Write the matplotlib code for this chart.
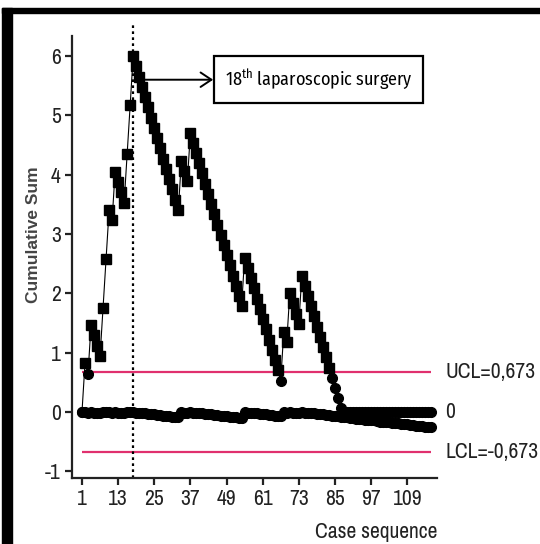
import matplotlib
matplotlib.use("Agg")
import matplotlib.pyplot as plt
from matplotlib.patches import Rectangle

plt.rcParams['font.family'] = ['Archivo Narrow', 'DejaVu Sans']
plt.rcParams['mathtext.fontset'] = 'custom'
plt.rcParams['mathtext.rm'] = 'Fira Sans Condensed'
plt.rcParams['axes.unicode_minus'] = False

# ---- data ----
cases = list(range(1, 118))
cusum = [0.00, 0.82, 0.64, 1.46, 1.29, 1.12, 0.94, 1.76, 2.58, 3.40,
         3.23, 4.05, 3.88, 3.70, 3.53, 4.35, 5.17, 6.00, 5.83, 5.65,
         5.48, 5.31, 5.14, 4.96, 4.79, 4.62, 4.45, 4.27, 4.10, 3.93,
         3.76, 3.58, 3.41, 4.23, 4.06, 3.89, 4.71, 4.54, 4.37, 4.19,
         4.02, 3.85, 3.68, 3.50, 3.33, 3.16, 2.99, 2.81, 2.64, 2.47,
         2.30, 2.12, 1.95, 1.78, 2.60, 2.43, 2.26, 2.09, 1.91, 1.74,
         1.57, 1.40, 1.22, 1.05, 0.88, 0.71, 0.53, 1.35, 1.18, 2.00,
         1.83, 1.66, 1.48, 2.30, 2.13, 1.96, 1.79, 1.61, 1.44, 1.27,
         1.10, 0.92, 0.75, 0.58, 0.41, 0.23, 0.06, 0.00, 0.00, 0.00,
         0.00, 0.00, 0.00, 0.00, 0.00, 0.00, 0.00, 0.00, 0.00, 0.00,
         0.00, 0.00, 0.00, 0.00, 0.00, 0.00, 0.00, 0.00, 0.00, 0.00,
         0.00, 0.00, 0.00, 0.00, 0.00, 0.00, 0.00]
lower = [0.00, 0.00, -0.01, 0.00, -0.01, -0.01, -0.02, 0.00, 0.00, 0.00,
         -0.01, 0.00, -0.01, -0.01, -0.02, 0.00, 0.00, 0.00, -0.01, -0.01,
         -0.02, -0.02, -0.03, -0.04, -0.04, -0.05, -0.05, -0.06, -0.07, -0.07,
         -0.08, -0.08, -0.09, 0.00, -0.01, -0.01, 0.00, -0.01, -0.01, -0.02,
         -0.02, -0.03, -0.04, -0.04, -0.05, -0.05, -0.06, -0.07, -0.07, -0.08,
         -0.08, -0.09, -0.10, -0.10, 0.00, -0.01, -0.01, -0.02, -0.02, -0.03,
         -0.04, -0.04, -0.05, -0.05, -0.06, -0.07, -0.07, 0.00, -0.01, 0.00,
         -0.01, -0.01, -0.02, 0.00, -0.01, -0.01, -0.02, -0.02, -0.03, -0.04,
         -0.04, -0.05, -0.05, -0.06, -0.07, -0.07, -0.08, -0.08, -0.09, -0.10,
         -0.10, -0.11, -0.11, -0.12, -0.13, -0.13, -0.14, -0.14, -0.15, -0.16,
         -0.16, -0.17, -0.17, -0.18, -0.19, -0.19, -0.20, -0.20, -0.21, -0.22,
         -0.22, -0.23, -0.23, -0.24, -0.25, -0.25, -0.26]
UCL, LCL = 0.673, -0.673
MARK_CASE = 18
xticks = [1, 13, 25, 37, 49, 61, 73, 85, 97, 109]
yticks = [-1, 0, 1, 2, 3, 4, 5, 6]
assert len(cusum) == len(cases) == len(lower)

fig = plt.figure(figsize=(5.4, 5.44), dpi=100)
ax = fig.add_axes([0.1333, 0.1213, 0.676, 0.8383])

# frame of the original figure (left + top black bars)
fig.patches.append(Rectangle((0.0037, 0), 0.0185, 0.985, transform=fig.transFigure, color="black", zorder=0))
fig.patches.append(Rectangle((0.0037, 0.976), 1.0, 0.009, transform=fig.transFigure, color="black", zorder=0))

ax.hlines([UCL, LCL], cases[0], cases[-1], color="#e0306e", lw=1.6, zorder=1)
ax.axvline(MARK_CASE, color="black", ls=(0, (1.2, 1.5)), lw=1.6, zorder=1)

# lower series (near zero)
ax.plot(cases, lower, color="black", lw=0.8, zorder=2)
ax.plot(cases, lower, "o", color="black", ms=7, zorder=2)

# main CUSUM
ax.plot(cases, cusum, color="black", lw=0.8, zorder=3)
sq = [(c, v) for c, v in zip(cases, cusum) if v > UCL]
ci = [(c, v) for c, v in zip(cases, cusum) if v <= UCL]
ax.plot([c for c, v in sq], [v for c, v in sq], "s", color="black", ms=7.4, zorder=4)
ax.plot([c for c, v in ci], [v for c, v in ci], "o", color="black", ms=7, zorder=4)

ax.set_xlim(-2.32, 118.9)
ax.set_ylim(-1.112, 6.573)
ax.set_xticks(xticks); ax.set_yticks(yticks)
for s in ["top", "right"]: ax.spines[s].set_visible(False)
for s in ["left", "bottom"]:
    ax.spines[s].set_linewidth(1.6); ax.spines[s].set_color("#222")
ax.spines["left"].set_bounds(-1.112, 6.34)
ax.tick_params(direction="out", length=5, width=1.6, labelsize=15.5, colors="#222", pad=3)

ax.set_ylabel("Cumulative Sum", family=["Liberation Sans", "DejaVu Sans"], fontweight="bold",
              fontsize=12.5, color="#444")
ax.yaxis.set_label_coords(-0.085, 0.533)
ax.text(1.0, -0.118, "Case sequence", transform=ax.transAxes, ha="right", va="center", fontsize=15.5, color="#222")

for y, t in [(UCL, "UCL=0,673"), (0, "0"), (LCL, "LCL=-0,673")]:
    ax.text(121.6, y, t, ha="left", va="center", fontsize=15.5, color="#222", clip_on=False)

ax.annotate("18$^{\\mathrm{th}}$ laparoscopic surgery", xy=(20.3, 5.6), xytext=(79.6, 5.6),
            ha="center", va="center", fontsize=13, color="black", family=["Fira Sans Condensed", "DejaVu Sans"],
            bbox=dict(boxstyle="square,pad=0.6", fc="white", ec="black", lw=1.6),
            arrowprops=dict(arrowstyle="<-,head_length=0.6,head_width=0.4", color="black", lw=1.4,
                            shrinkA=0, shrinkB=0))

fig.savefig("out.png", dpi=100)
